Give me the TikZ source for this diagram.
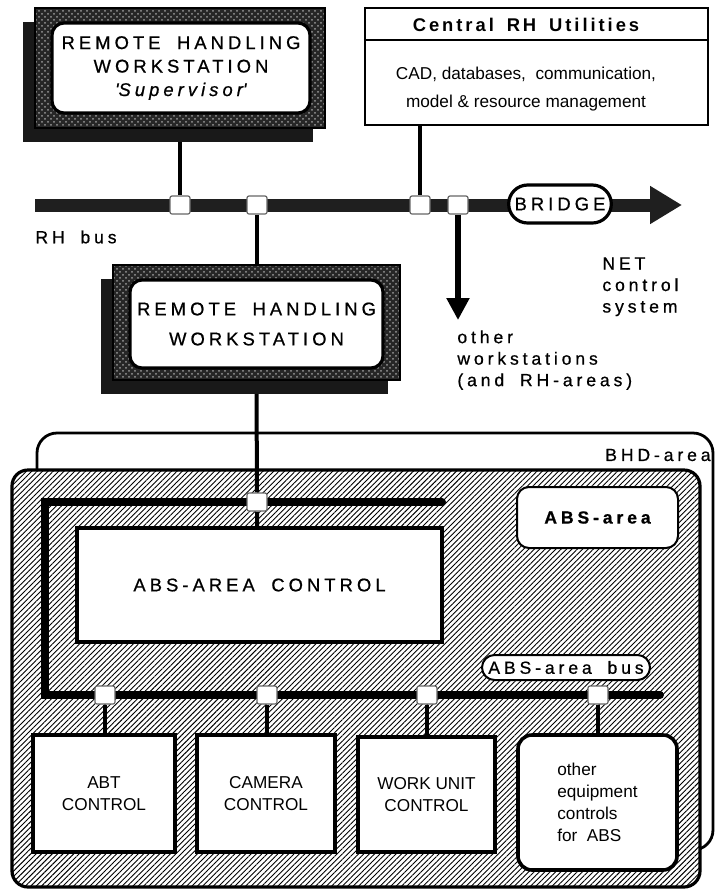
\documentclass[tikz,border=0pt]{standalone}
\usepackage{fontspec}
\setmainfont{Liberation Sans}
\newfontfamily\spc[LetterSpace=22,WordSpace=1.8,FakeBold=0.7]{Liberation Sans}
\newfontfamily\spcb[LetterSpace=16,WordSpace=1.6]{Liberation Sans}
\usetikzlibrary{arrows.meta,patterns,patterns.meta,shapes.misc,shadows}
\pgfdeclarelayer{back}
\pgfdeclarelayer{wires}
\pgfsetlayers{back,wires,main}
\newcommand{\txt}[1]{\fontsize{9.2}{#1}\selectfont}
\newcommand{\sml}[1]{\fontsize{8.8}{#1}\selectfont}
\tikzset{
  lbl/.style={font=\spc\sml{10.75}, inner sep=0pt},
  wsframe/.style={draw=black, line width=0.8pt,
    drop shadow={shadow xshift=-6pt, shadow yshift=-7pt, fill=black!90, opacity=1},
    preaction={fill=black!85}, pattern=crosshatch dots, pattern color=black!40},
  wsbox/.style={draw, line width=1.6pt, fill=white, rounded corners=6pt, align=center, inner sep=0pt},
  ctrlbox/.style={draw, line width=1.8pt, fill=white, align=center, inner sep=0pt, font=\fontsize{8.6}{11}\selectfont},
  tap/.style={draw=black!60, line width=0.6pt, fill=white, rounded corners=1pt,
    minimum width=10pt, minimum height=9pt, inner sep=0pt},
  wire/.style={line width=2pt},
  rhbus/.style={line width=6.5pt, draw=black!88, -{Triangle[width=18pt,length=16pt]}},
  absbus/.style={line width=4pt, line cap=round},
  hatched/.style={preaction={fill=white}, pattern={Lines[angle=45,distance=1.9pt,line width=0.45pt]}}
}
\begin{document}
\begin{tikzpicture}[x=0.5pt,y=-0.5pt]
  \useasboundingbox (0,0) rectangle (716,890);
  \begin{pgfonlayer}{back}
    \draw [line width=1.4pt, rounded corners=10pt] (37,433) rectangle (713,850);
    \draw [line width=1.6pt, rounded corners=8pt, hatched] (12,470) rectangle (700,887);
  \end{pgfonlayer}

  \node [wsframe, minimum width=145pt, minimum height=60pt] (supfr) at (180,68) {};
  \node [wsbox, minimum width=129pt, minimum height=45pt, font=\spc\txt{11.75}] (sup) at (181,68)
    {REMOTE HANDLING\\WORKSTATION\\\textit{\textquotesingle Supervisor\textquotesingle}};
  \node [wsframe, minimum width=143.5pt, minimum height=57.5pt] (wsfr) at (256.5,322.5) {};
  \node [wsbox, minimum width=126.5pt, minimum height=44pt, font=\spc\txt{15}] (ws) at (256.5,324)
    {REMOTE HANDLING\\WORKSTATION};
  \node [draw, line width=1.2pt, fill=white, minimum width=171.5pt, minimum height=58.5pt] (util) at (536.5,66.5) {};
  \node [ctrlbox, minimum width=182.5pt, minimum height=57pt, font=\spc\txt{11}] (absctrl) at (259.5,585) {ABS-AREA CONTROL};
  \node [draw, line width=1pt, fill=white, rounded corners=6pt, minimum width=80.5pt, minimum height=30.5pt,
    font=\spc\bfseries\sml{11}] (abslbl) at (597.5,517.5) {ABS-area};
  \node [ctrlbox, minimum width=71pt, minimum height=58.5pt] (abt) at (104,793.5) {ABT\\CONTROL};
  \node [ctrlbox, minimum width=69pt, minimum height=58.5pt] (cam) at (266,793.5) {CAMERA\\CONTROL};
  \node [ctrlbox, minimum width=68.5pt, minimum height=57.5pt] (wu) at (426.5,794.5) {WORK UNIT\\CONTROL};
  \node [ctrlbox, rounded corners=7pt, align=left, minimum width=79.5pt, minimum height=67.5pt] (oth) at (597.5,802.5)
    {other\\equipment\\controls\\for\ \ ABS};

  \node [tap] (rt1) at (180,205) {};
  \node [tap] (rt2) at (257,205) {};
  \node [tap] (rt3) at (420,205) {};
  \node [tap] (rt4) at (458,205) {};
  \node [tap] (at0) at (257,502) {};
  \node [tap] (at1) at (105,695) {};
  \node [tap] (at2) at (267,695) {};
  \node [tap] (at3) at (427,695) {};
  \node [tap] (at4) at (598,695) {};

  \coordinate (busL) at (35,205);
  \coordinate (busR) at (682,205);
  \coordinate (othend) at (458,320);
  \coordinate (abA) at (442,502);
  \coordinate (abB) at (45,502);
  \coordinate (abC) at (45,695);
  \coordinate (abD) at (660,695);

  \begin{pgfonlayer}{wires}
    \draw [rhbus] (busL) -- (busR);
    \draw [wire] (supfr.south) -- (rt1);
    \draw [wire] (rt2) -- (rt2 |- wsfr.north);
    \draw [wire] (rt3 |- util.south) -- (rt3);
    \draw [line width=2.6pt, -{Triangle[width=11pt,length=11pt]}] (rt4) -- (othend);
    \draw [absbus] (abA) -- (abB) -- (abC) -- (abD);
    \draw [wire] (wsfr.south) -- (at0) -- (at0 |- absctrl.north);
    \draw [wire] (at1) -- (at1 |- abt.north);
    \draw [wire] (at2) -- (at2 |- cam.north);
    \draw [wire] (at3) -- (at3 |- wu.north);
    \draw [wire] (at4) -- (at4 |- oth.north);
  \end{pgfonlayer}

  \node [rounded rectangle, draw, line width=1.6pt, fill=white, minimum width=58pt, minimum height=19pt,
    font=\spc\txt{11}] (bridge) at (560,204) {BRIDGE};
  \node [rounded rectangle, draw, line width=1pt, fill=white, minimum width=86pt, minimum height=12.5pt,
    inner sep=1pt, font=\spc\sml{11}] (absbuslbl) at (566,667.5) {ABS-area bus};

  \draw [line width=1pt] (util.west |- 0,40) -- (util.east |- 0,40);
  \node [lbl, font=\spcb\bfseries\txt{11}] (utiltitle) at (526,25) {Central RH Utilities};
  \node [inner sep=0pt, align=center, font=\fontsize{8.6}{14}\selectfont] (utiltext) at (526,89)
    {CAD, databases,\ \ communication,\\model \& resource management};

  \node [lbl, anchor=west] (rhbuslbl) at (35,237) {RH bus};
  \node [lbl, anchor=north west, align=left] (netlbl) at (602,257) {NET\\control\\system};
  \node [lbl, anchor=north west, align=left] (otherlbl) at (457,330) {other\\workstations\\(and RH-areas)};
  \node [lbl, anchor=east] (bhdlbl) at (711,455) {BHD-area};
\end{tikzpicture}
\end{document}
